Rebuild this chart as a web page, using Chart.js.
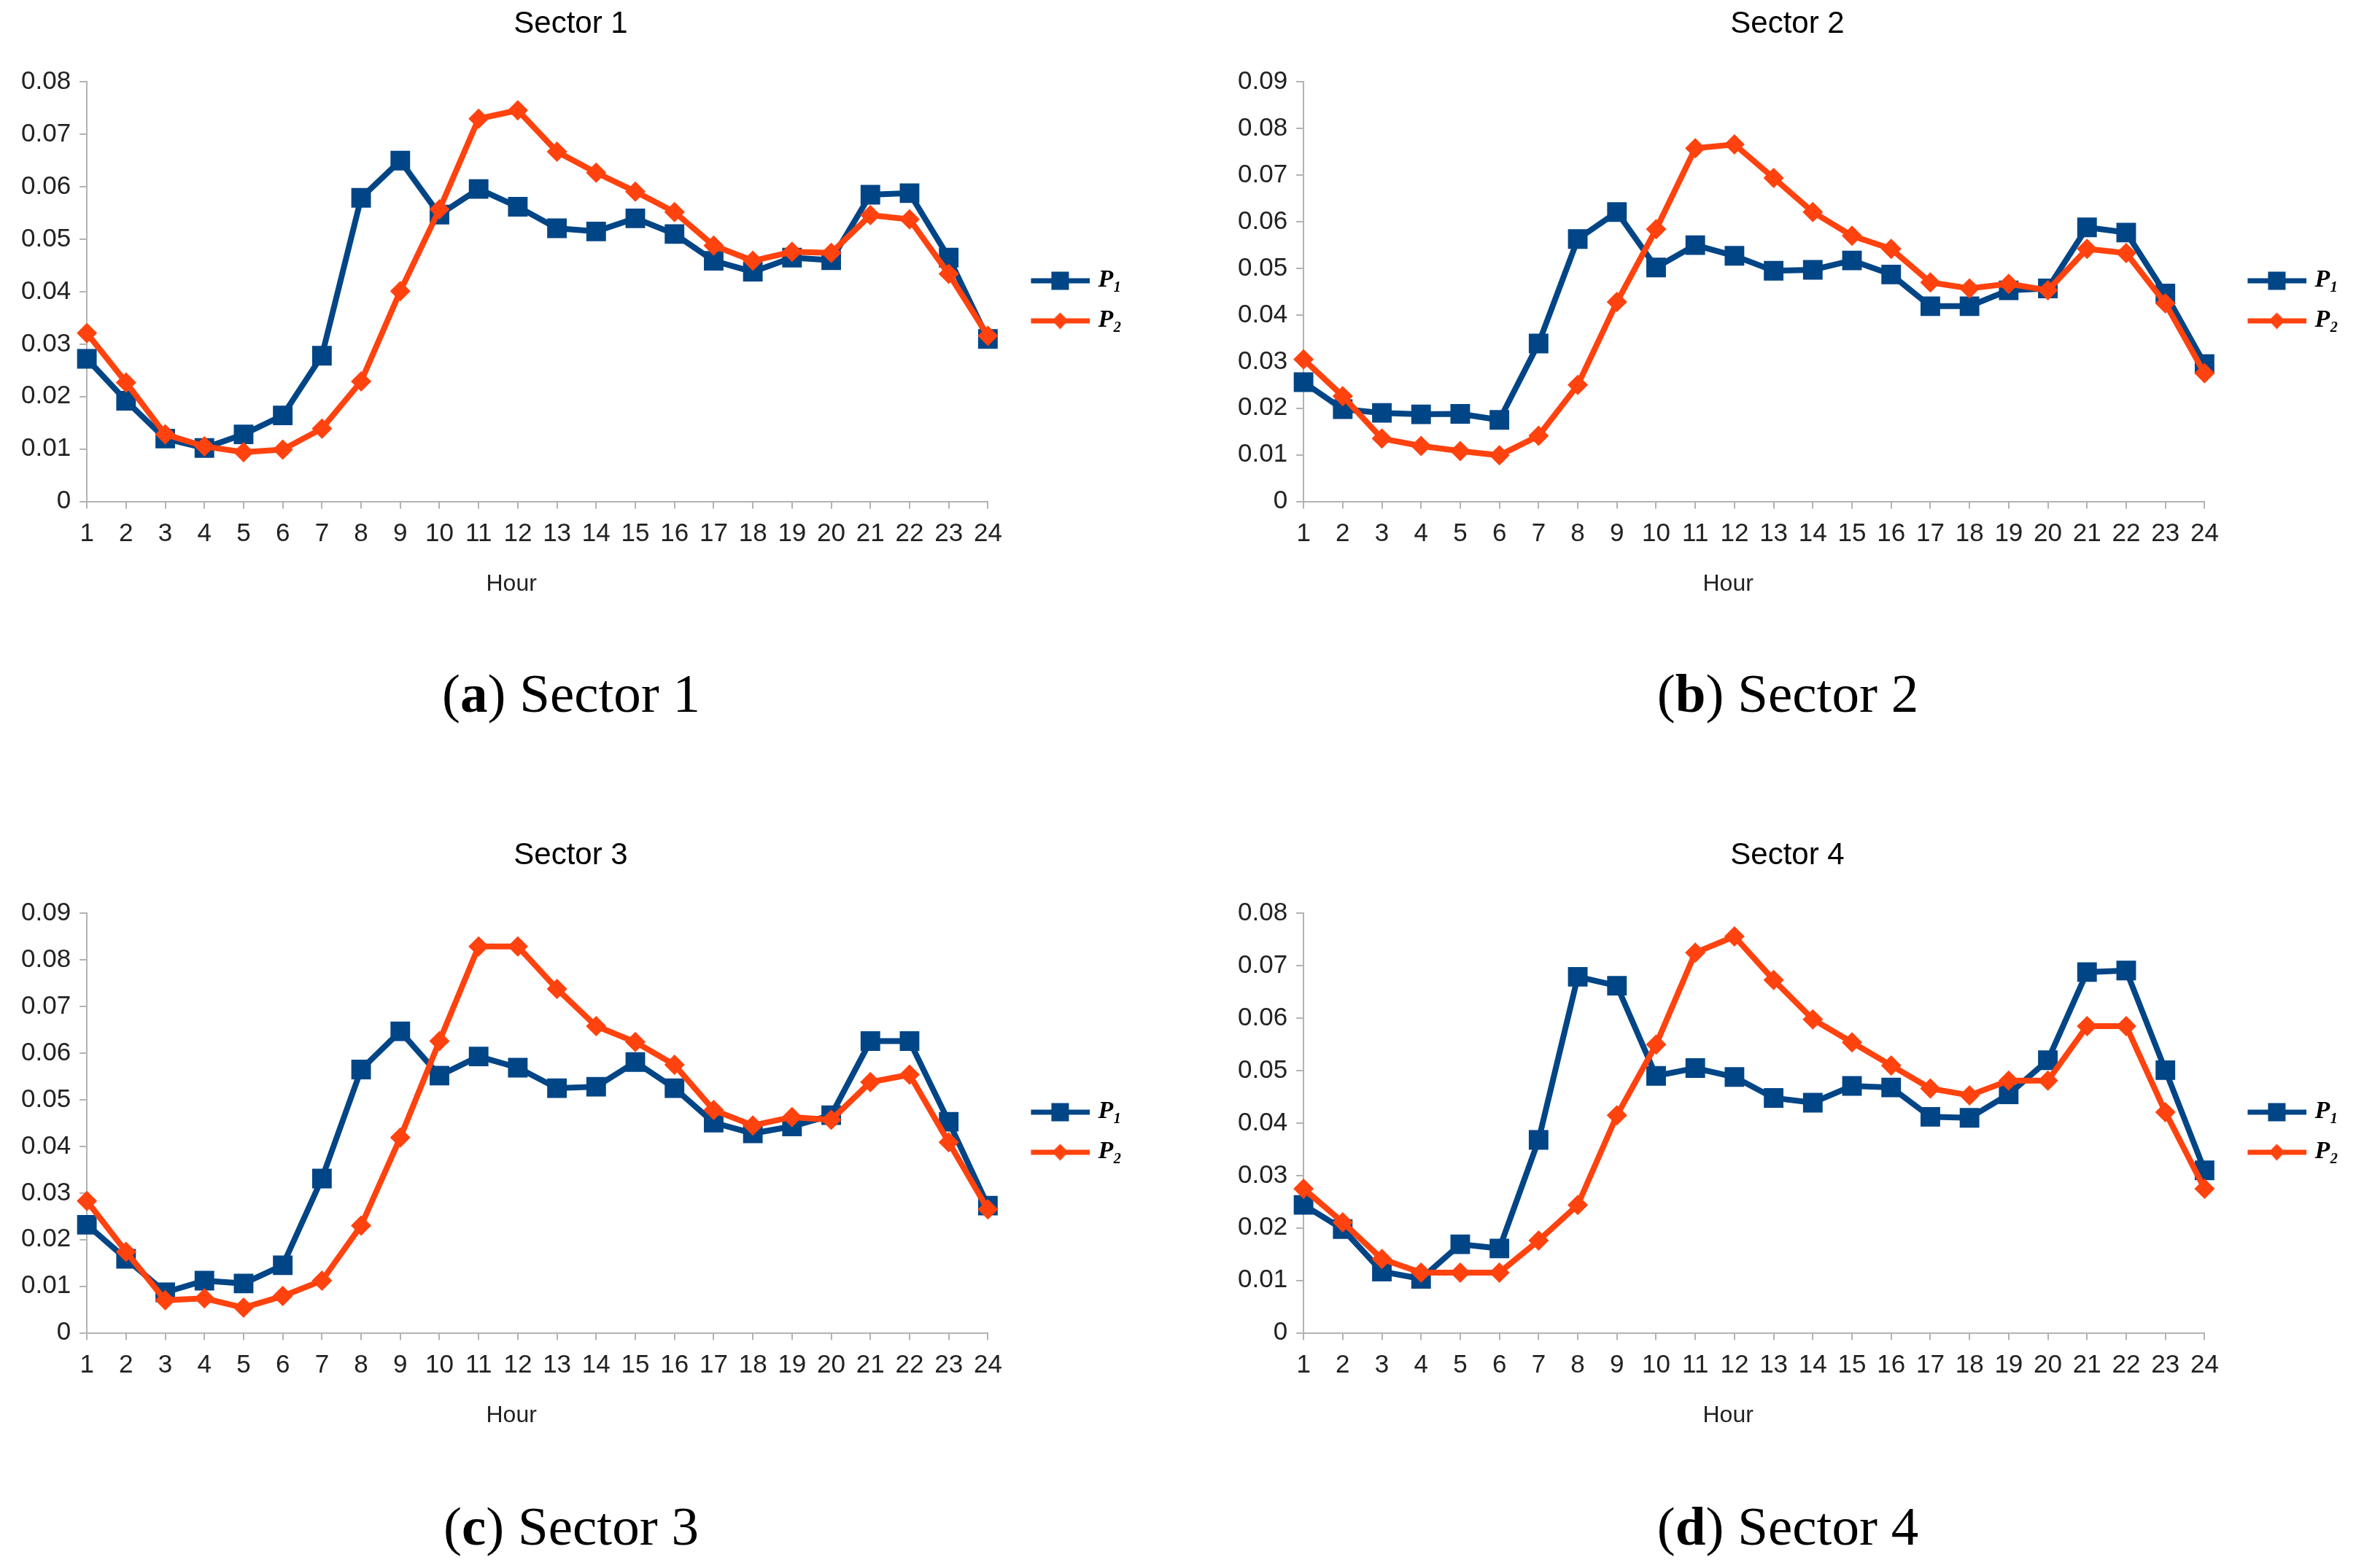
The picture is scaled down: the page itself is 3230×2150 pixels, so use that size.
<!DOCTYPE html>
<html>
<head>
  <meta charset="utf-8">
  <title>Sector profiles</title>
  <script src="https://cdn.jsdelivr.net/npm/chart.js"></script>
  <style>
    body {
      margin: 0;
      background-color: #ffffff;
      width: 3230px;
      height: 2150px;
      position: relative;
      overflow: hidden;
    }
    canvas {
      position: absolute;
    }
    .cap {
      position: absolute;
      width: 900px;
      text-align: center;
      font-family: 'Liberation Serif', serif;
      font-size: 75px;
      line-height: 80px;
      color: #000;
    }
  </style>
</head>
<body>
  <canvas id="c1" width="1562" height="850" style="left:0px;top:0px"></canvas>
  <canvas id="c2" width="1562" height="850" style="left:1668px;top:0px"></canvas>
  <canvas id="c3" width="1562" height="850" style="left:0px;top:1140px"></canvas>
  <canvas id="c4" width="1562" height="850" style="left:1668px;top:1140px"></canvas>
  <div class="cap" style="left:333px;top:911px">(<b>a</b>) Sector 1</div>
  <div class="cap" style="left:2001px;top:911px">(<b>b</b>) Sector 2</div>
  <div class="cap" style="left:333px;top:2053px">(<b>c</b>) Sector 3</div>
  <div class="cap" style="left:2001px;top:2053px">(<b>d</b>) Sector 4</div>
  <script>
    const hours = ['1','2','3','4','5','6','7','8','9','10','11','12',
                   '13','14','15','16','17','18','19','20','21','22','23','24'];
    const seriesNames = ['P\u2081', 'P\u2082'];

    const s1P1 = [0.0272,0.0192,0.0120,0.0102,0.0128,0.0164,0.0278,0.0579,0.0650,0.0547,0.0596,0.0562,
                  0.0521,0.0515,0.0540,0.0510,0.0459,0.0438,0.0465,0.0460,0.0585,0.0588,0.0465,0.0310];
    const s1P2 = [0.0321,0.0227,0.0128,0.0105,0.0094,0.0099,0.0139,0.0229,0.0401,0.0557,0.0730,0.0746,
                  0.0667,0.0627,0.0591,0.0552,0.0488,0.0459,0.0476,0.0474,0.0546,0.0538,0.0434,0.0316];

    const s2P1 = [0.0256,0.0198,0.0190,0.0187,0.0188,0.0175,0.0339,0.0563,0.0621,0.0502,0.0550,0.0527,
                  0.0495,0.0497,0.0517,0.0487,0.0419,0.0419,0.0453,0.0457,0.0588,0.0577,0.0446,0.0295];
    const s2P2 = [0.0305,0.0226,0.0135,0.0119,0.0108,0.0099,0.0141,0.0250,0.0428,0.0584,0.0758,0.0766,
                  0.0694,0.0621,0.0570,0.0542,0.0470,0.0457,0.0467,0.0453,0.0542,0.0533,0.0425,0.0275];

    const s3P1 = [0.0232,0.0159,0.0087,0.0112,0.0106,0.0145,0.0331,0.0565,0.0647,0.0552,0.0593,0.0569,
                  0.0525,0.0528,0.0581,0.0525,0.0451,0.0428,0.0443,0.0467,0.0626,0.0626,0.0453,0.0273];
    const s3P2 = [0.0283,0.0174,0.0070,0.0074,0.0054,0.0079,0.0112,0.0230,0.0419,0.0626,0.0829,0.0829,
                  0.0738,0.0658,0.0624,0.0575,0.0478,0.0445,0.0463,0.0457,0.0538,0.0554,0.0409,0.0265];

    const s4P1 = [0.0244,0.0198,0.0117,0.0103,0.0169,0.0161,0.0368,0.0679,0.0662,0.0490,0.0505,0.0488,
                  0.0448,0.0439,0.0471,0.0468,0.0412,0.0410,0.0455,0.0520,0.0688,0.0691,0.0501,0.0310];
    const s4P2 = [0.0275,0.0211,0.0141,0.0115,0.0115,0.0115,0.0176,0.0244,0.0415,0.0550,0.0725,0.0756,
                  0.0673,0.0598,0.0554,0.0510,0.0466,0.0453,0.0481,0.0481,0.0585,0.0585,0.0421,0.0275];

    const blue = '#004586';
    const orange = '#ff420e';
    const axisGrey = '#b3b3b3';

    // legend symbol: line with the marker on it
    function legendIcon(color, square) {
      const c = document.createElement('canvas');
      c.width = 125; c.height = 30;
      const g = c.getContext('2d');
      g.fillStyle = color;
      g.fillRect(44, 12, 81, 7);
      if (square) {
        g.fillRect(72, 3, 24, 25);
      } else {
        g.beginPath();
        g.moveTo(84, 4); g.lineTo(95, 15); g.lineTo(84, 27); g.lineTo(73, 15);
        g.closePath();
        g.fill();
      }
      return c;
    }
    const icons = [legendIcon(blue, true), legendIcon(orange, false)];

    function makeChart(id, title, p1, p2, yMax) {
      const tickFont = { family: 'Liberation Sans', size: 35 };
      return new Chart(document.getElementById(id), {
        type: 'line',
        data: {
          labels: hours,
          datasets: [
            { label: seriesNames[0], data: p1, borderColor: blue, backgroundColor: blue,
              borderWidth: 8, pointStyle: 'rect', pointRadius: 19, pointHoverRadius: 19,
              pointBorderWidth: 0, tension: 0, order: 1 },
            { label: seriesNames[1], data: p2, borderColor: orange, backgroundColor: orange,
              borderWidth: 8, pointStyle: 'rectRot', pointRadius: 14, pointHoverRadius: 14,
              pointBorderWidth: 0, tension: 0, order: 0 }
          ]
        },
        options: {
          responsive: false,
          devicePixelRatio: 1,
          animation: false,
          layout: { padding: { left: 17, right: 14, top: 0, bottom: 30 } },
          plugins: {
            title: {
              display: true, text: title, color: '#000',
              font: { family: 'Liberation Sans', size: 42, weight: 'normal' },
              padding: { top: 8, bottom: 54 }
            },
            legend: {
              position: 'right',
              fullSize: false,
              title: { display: true, text: ' ', font: { size: 20 }, padding: 0 },
              labels: {
                usePointStyle: true,
                pointStyleWidth: 113,
                padding: 21,
                color: '#000',
                font: { family: 'Liberation Serif', size: 34, style: 'italic', weight: 'bold' },
                generateLabels: chart => chart.data.datasets.map((ds, i) => ({
                  text: ds.label, pointStyle: icons[i], fillStyle: ds.backgroundColor,
                  strokeStyle: ds.borderColor, lineWidth: 0, hidden: false, datasetIndex: i,
                  fontColor: '#000'
                }))
              }
            },
            tooltip: { enabled: false }
          },
          scales: {
            x: {
              offset: false,
              grid: { display: true, drawOnChartArea: false, tickLength: 10, color: axisGrey, lineWidth: 2 },
              border: { color: axisGrey, width: 2 },
              ticks: { color: '#222', font: tickFont, padding: 14, maxRotation: 0, autoSkip: false },
              title: { display: true, text: 'Hour        ', color: '#222',
                       font: { family: 'Liberation Sans', size: 32 }, padding: { top: 14, bottom: 0 } }
            },
            y: {
              min: 0, max: yMax,
              grid: { display: true, drawOnChartArea: false, tickLength: 10, color: axisGrey, lineWidth: 2 },
              border: { color: axisGrey, width: 2 },
              ticks: { color: '#222', font: tickFont, padding: 12, stepSize: 0.01,
                       callback: v => v === 0 ? '0' : v.toFixed(2) }
            }
          }
        }
      });
    }

    makeChart('c1', 'Sector 1', s1P1, s1P2, 0.08);
    makeChart('c2', 'Sector 2', s2P1, s2P2, 0.09);
    makeChart('c3', 'Sector 3', s3P1, s3P2, 0.09);
    makeChart('c4', 'Sector 4', s4P1, s4P2, 0.08);
  </script>
</body>
</html>
